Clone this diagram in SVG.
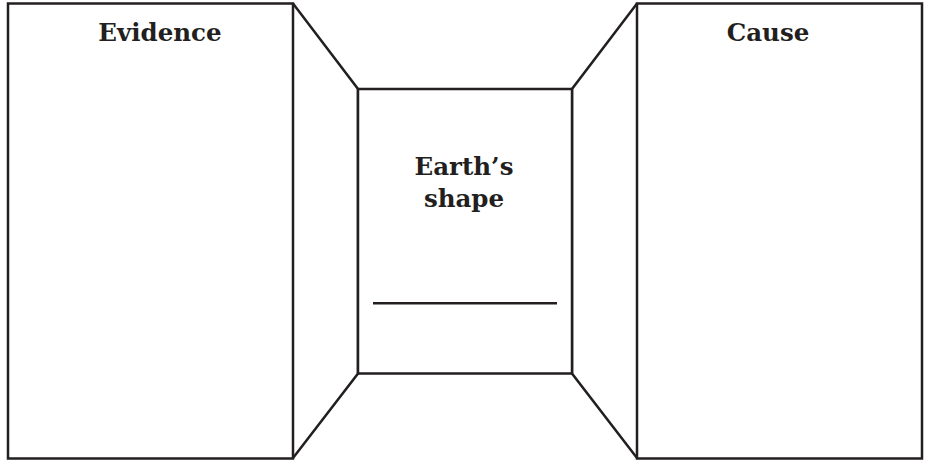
<svg xmlns="http://www.w3.org/2000/svg" width="929" height="461" viewBox="0 0 929 461">
<style>
.box{fill:#fff;stroke:#231f20;stroke-width:2.5;stroke-linejoin:miter}
.ln{fill:none;stroke:#231f20;stroke-width:2.5}
.t{font-family:"DejaVu Serif","Liberation Serif",serif;font-weight:bold;font-size:24.5px;fill:#231f20;text-anchor:middle}
</style>
<rect width="929" height="461" fill="#fff"/>
<g id="connectors">
<polyline class="ln" points="293,3.5 358,89 358,373.5 293,458"/>
<polyline class="ln" points="637,3.5 572,89 572,373.5 637,458"/>
</g>
<g id="evidence">
<rect class="box" x="8" y="3.5" width="285" height="455"/>
<text class="t" x="160" y="41">Evidence</text>
</g>
<g id="cause">
<rect class="box" x="637" y="3.5" width="285" height="455"/>
<text class="t" x="768" y="41">Cause</text>
</g>
<g id="earth">
<rect class="box" x="358" y="89" width="214" height="284.5"/>
<text class="t" x="464" y="175">Earth’s</text>
<text class="t" x="464" y="207">shape</text>
<line class="ln" x1="373" y1="303.3" x2="557" y2="303.3"/>
</g>
</svg>
